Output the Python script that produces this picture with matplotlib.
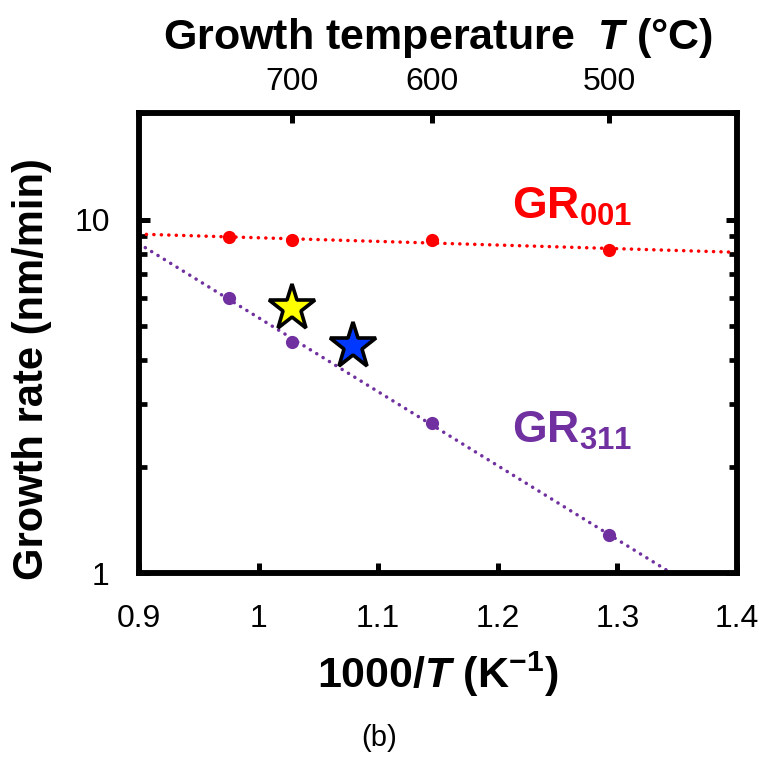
import numpy as np
import matplotlib
matplotlib.use("Agg")
import matplotlib.pyplot as plt

plt.rcParams['font.family'] = ['Liberation Sans', 'DejaVu Sans']
plt.rcParams['mathtext.fontset'] = 'custom'
plt.rcParams['mathtext.rm'] = 'Liberation Sans'
plt.rcParams['mathtext.it'] = 'Liberation Sans:italic'
plt.rcParams['mathtext.bf'] = 'Liberation Sans:bold'
plt.rcParams['mathtext.bfit'] = 'Liberation Sans:bold:italic'

# Inverse temperature (1000/T, K^-1) of the growth runs
inv_T = [0.9755, 1.0276, 1.1453, 1.2934]
# Growth rates (nm/min)
gr_001 = [8.95, 8.73, 8.73, 8.23]
gr_311 = [6.02, 4.52, 2.65, 1.28]
# Extra samples shown as stars
star_x = [1.028, 1.079]
star_y = [5.64, 4.38]
star_colors = ['#FFFF00', '#0038FF']
# Top axis temperatures (degC)
top_temps = [700, 600, 500]

red = '#FF0000'
purple = '#7030A0'

fig = plt.figure(figsize=(7.59, 7.60), dpi=100)
ax = fig.add_axes([0.183, 0.246, 0.788, 0.605])

xfit = np.linspace(0.9, 1.4, 200)
for ys, c in [(gr_001, red), (gr_311, purple)]:
    p = np.polyfit(inv_T, np.log10(ys), 1)
    ax.plot(xfit, 10 ** np.polyval(p, xfit), color=c, lw=2.5,
            linestyle=(0, (0.05, 2.1)), dash_capstyle='round', zorder=2)
    ax.plot(inv_T, ys, 'o', color=c, ms=9.5, mec='none', zorder=3)

for x, y, c in zip(star_x, star_y, star_colors):
    ax.plot(x, y, '*', ms=35, mfc=c, mec='black', mew=2.6, zorder=4)

ax.set_yscale('log')
ax.set_xlim(0.9, 1.4)
ax.set_ylim(1, 20)
ax.set_xticks([0.9, 1.0, 1.1, 1.2, 1.3, 1.4])
ax.set_xticklabels(['0.9', '1', '1.1', '1.2', '1.3', '1.4'])
ax.set_yticks([1, 10])
ax.set_yticklabels(['1', '10'])
ax.yaxis.set_minor_locator(matplotlib.ticker.LogLocator(base=10, subs=np.arange(2, 10)))
ax.yaxis.set_minor_formatter(matplotlib.ticker.NullFormatter())

for s in ax.spines.values():
    s.set_linewidth(4.0)
ax.tick_params(axis='x', which='major', direction='in', length=7, width=3.6,
               labelsize=23, pad=22, top=False)
ax.tick_params(axis='y', which='major', direction='in', length=8, width=3.6,
               labelsize=23, pad=21, right=True)
ax.tick_params(axis='y', which='minor', direction='in', length=6, width=3.4, right=True)

ax.set_xlabel(r'1000/$\boldsymbol{T}$ (K$^{\mathbf{-1}}$)', fontsize=31, fontweight='bold')
ax.xaxis.set_label_coords(0.5, -0.166)
ax.set_ylabel('Growth rate (nm/min)', fontsize=30, fontweight='bold')
ax.yaxis.set_label_coords(-0.145, 0.443)

ax.text(1.212, 10.06, r'$\mathbf{GR_{001}}$', color=red, fontsize=32, ha='left', va='baseline')
ax.text(1.212, 2.33, r'$\mathbf{GR_{311}}$', color=purple, fontsize=32, ha='left', va='baseline')

top = ax.twiny()
top.set_xlim(ax.get_xlim())
top.set_xticks([1000.0 / (t + 273.15) for t in top_temps])
top.set_xticklabels([str(t) for t in top_temps])
top.tick_params(axis='x', direction='in', length=7, width=3.6, labelsize=23, pad=12)
for s in top.spines.values():
    s.set_linewidth(4.0)
top.set_xlabel(r'Growth temperature  $\boldsymbol{T}$ (°C)', fontsize=31, fontweight='bold')
top.xaxis.set_label_coords(0.5, 1.14)

fig.text(0.5, 0.01, '(b)', ha='center', va='bottom', fontsize=21)

fig.savefig('out.png', dpi=100)
